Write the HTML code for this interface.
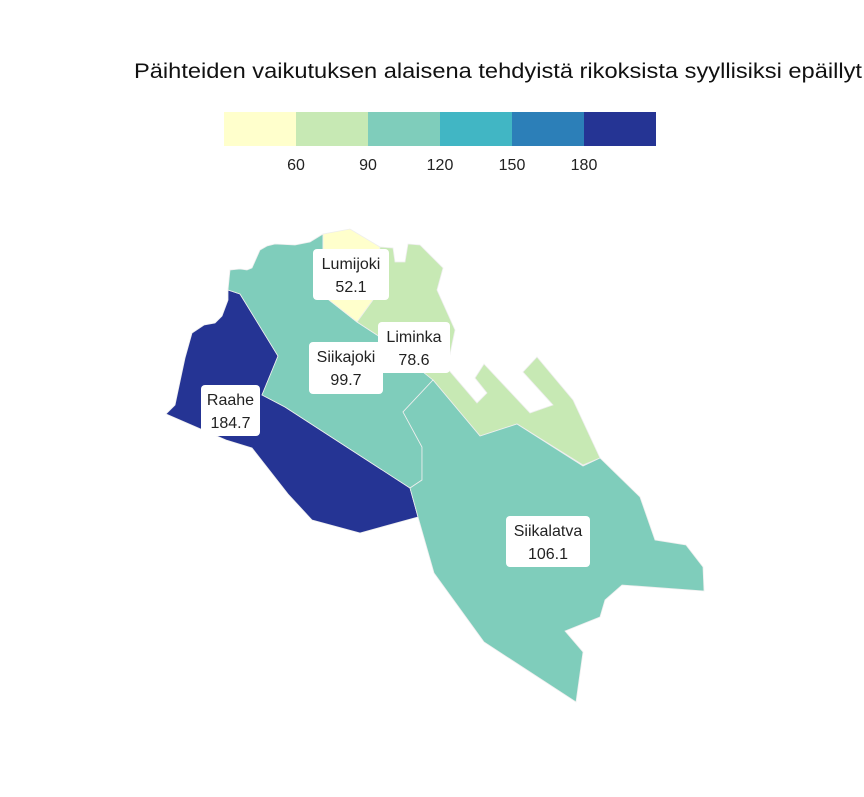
<!DOCTYPE html>
<html><head><meta charset="utf-8"><style>
body{margin:0;background:#fff;overflow:hidden;}
svg text{font-family:"Liberation Sans",sans-serif;}
</style></head><body>
<svg width="864" height="792" viewBox="0 0 864 792">
<text x="134" y="78" font-size="21.5" textLength="728" lengthAdjust="spacingAndGlyphs" fill="#111">Päihteiden vaikutuksen alaisena tehdyistä rikoksista syyllisiksi epäillyt</text>
<g id="legend"></g>
<g id="map"></g>
<g id="labels"></g>
</svg>
<script>
const legendColors=["#ffffcc","#c7e9b4","#7fcdbb","#41b6c4","#2c7fb8","#253494"];
const legendTicks=[60,90,120,150,180];
const regionNames=["Raahe","Siikajoki","Lumijoki","Liminka","Siikalatva"];
const regionValues=[184.7,99.7,52.1,78.6,106.1];
const NS="http://www.w3.org/2000/svg";
const shapes={
Raahe:"228,290 240,294 278,356 262,395 285,407 410,488 418,517 360,533 312,520 288,494 252,448 226,440 166,414 175,405 185,358 192,333 204,325 215,323 222,316 228,300",
Siikajoki:"230,270 240,269 247,270 252,268 260,250 267,246 275,244 295,245 310,242 323,234 323,290 329,300 357,322 377,335 433,380 403,412 422,447 422,480 410,488 285,407 262,395 278,356 240,294 228,290",
Lumijoki:"323,234 350,229 380,247 378,270 373,300 357,322 329,300 323,290",
Liminka:"380,247 393,248 395,262 405,262 408,244 420,245 443,268 437,290 455,330 447,368 477,403 487,393 475,378 484,364 530,413 553,405 523,372 537,357 573,400 600,458 583,465 517,424 480,436 433,380 377,335 357,322 373,300",
Siikalatva:"433,380 480,436 517,424 583,466 600,458 640,497 655,540 686,545 703,567 704,591 622,585 605,600 600,617 565,631 583,652 576,702 484,642 434,573 418,517 410,488 422,480 422,447 403,412"
};
const boxes={Raahe:[201,385,59,51],Siikajoki:[309,342,74,52],Lumijoki:[313,249,76,51],Liminka:[378,322,72,51],Siikalatva:[506,516,84,51]};
function colorFor(v){let i=0;while(i<legendTicks.length&&v>=legendTicks[i])i++;return legendColors[i];}
const lx=x0=>224+x0*72;
const lg=document.getElementById('legend');
legendColors.forEach((c,i)=>{
 const r=document.createElementNS(NS,'rect');
 r.setAttribute('x',lx(i));r.setAttribute('y',112);r.setAttribute('width',72);r.setAttribute('height',34);r.setAttribute('fill',c);
 
 
 lg.appendChild(r);
});
legendTicks.forEach((t,i)=>{
 const tx=document.createElementNS(NS,'text');
 tx.setAttribute('x',lx(i+1));tx.setAttribute('y',170);tx.setAttribute('text-anchor','middle');tx.setAttribute('font-size','16');tx.setAttribute('fill','#222');
 tx.textContent=t;
 
 
 lg.appendChild(tx);
});
const mg=document.getElementById('map'),lb=document.getElementById('labels');
regionNames.forEach((n,i)=>{
 const p=document.createElementNS(NS,'polygon');
 p.setAttribute('points',shapes[n]);p.setAttribute('fill',colorFor(regionValues[i]));p.setAttribute('stroke','#eeeeee');p.setAttribute('stroke-width','0.8');
 
 
 mg.appendChild(p);
 const b=boxes[n];
 const g=document.createElementNS(NS,'g');
 
 
 const r=document.createElementNS(NS,'rect');
 r.setAttribute('x',b[0]);r.setAttribute('y',b[1]);r.setAttribute('width',b[2]);r.setAttribute('height',b[3]);r.setAttribute('rx',4);r.setAttribute('fill','#fff');
 g.appendChild(r);
 const t1=document.createElementNS(NS,'text');
 t1.setAttribute('x',b[0]+b[2]/2);t1.setAttribute('y',b[1]+20);t1.setAttribute('text-anchor','middle');t1.setAttribute('font-size','16');t1.setAttribute('fill','#222');t1.textContent=n;
 g.appendChild(t1);
 const t2=document.createElementNS(NS,'text');
 t2.setAttribute('x',b[0]+b[2]/2);t2.setAttribute('y',b[1]+43);t2.setAttribute('text-anchor','middle');t2.setAttribute('font-size','16');t2.setAttribute('fill','#222');t2.textContent=regionValues[i].toFixed(1);
 g.appendChild(t2);
 lb.appendChild(g);
});
</script>
</body></html>
